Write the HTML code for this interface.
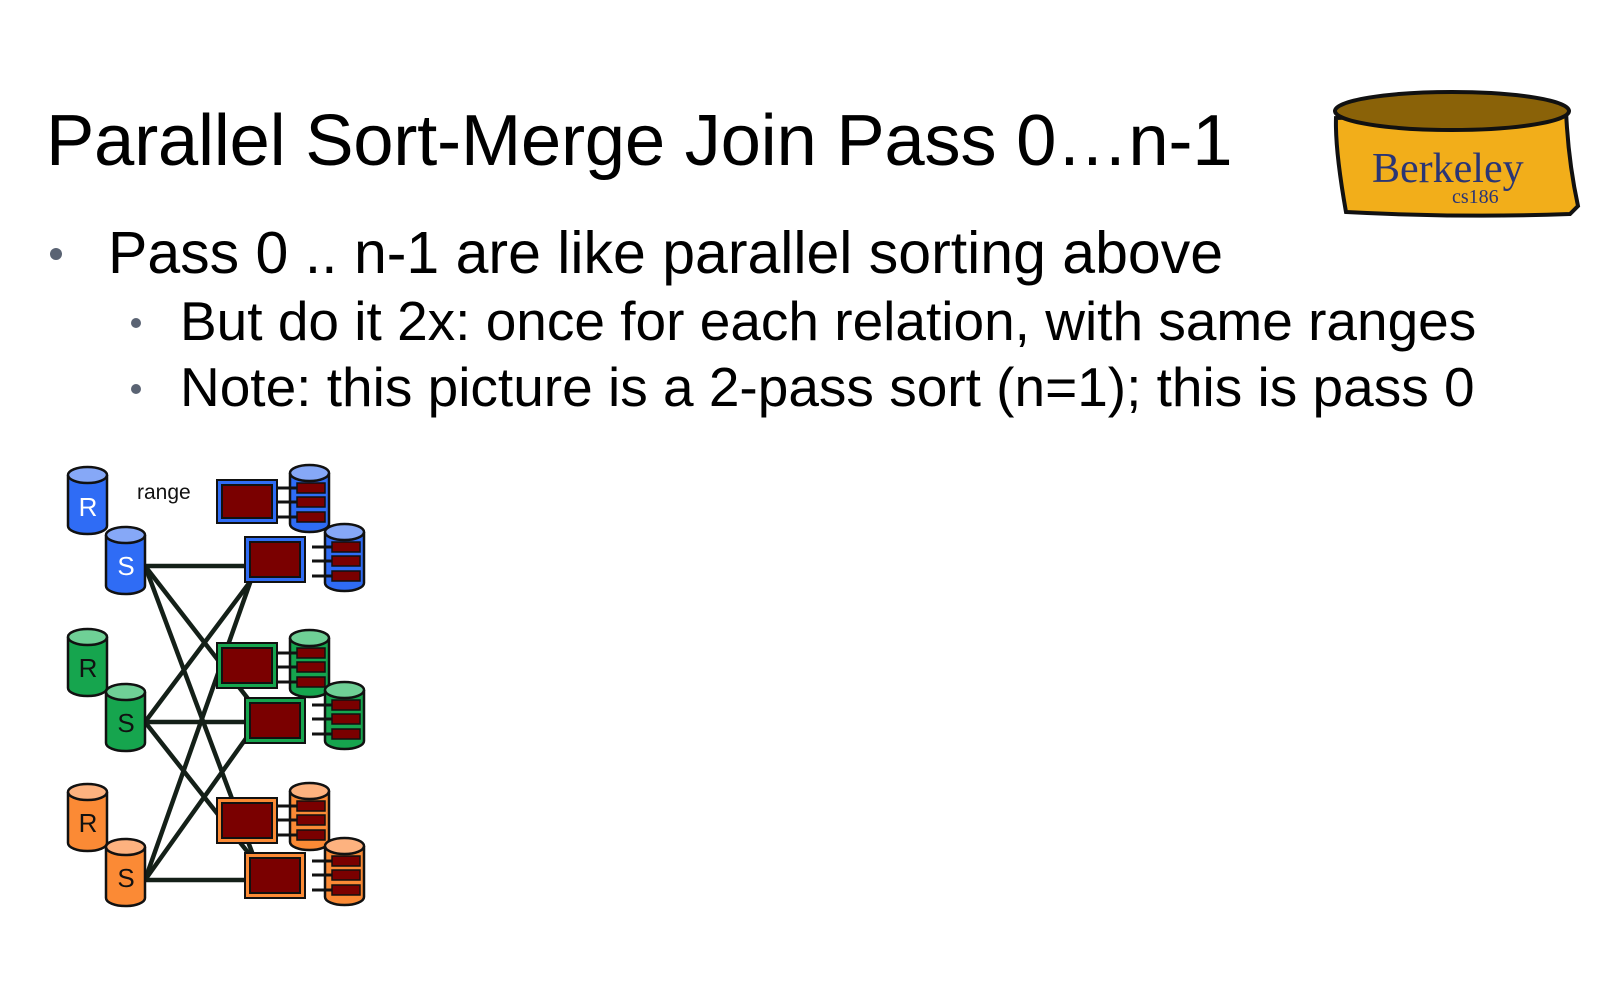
<!DOCTYPE html>
<html><head><meta charset="utf-8"><style>
body{margin:0;width:1615px;height:1008px;background:#fff;overflow:hidden;position:relative;font-family:"Liberation Sans",Arial,sans-serif;color:#000}
.t{position:absolute;white-space:nowrap}
.dot{position:absolute;border-radius:50%;background:#5a6373}
</style></head><body>
<div class="t" style="left:46px;top:99px;font-size:72.5px;letter-spacing:-0.3px">Parallel Sort-Merge Join Pass 0…n-1</div>
<div class="dot" style="left:50px;top:248px;width:12px;height:12px"></div>
<div class="t" style="left:108px;top:219px;font-size:59px">Pass 0 .. n-1 are like parallel sorting above</div>
<div class="dot" style="left:131px;top:318px;width:10px;height:10px"></div>
<div class="t" style="left:180px;top:289px;font-size:55px">But do it 2x: once for each relation, with same ranges</div>
<div class="dot" style="left:131px;top:384px;width:10px;height:10px"></div>
<div class="t" style="left:180px;top:355px;font-size:55px">Note: this picture is a 2-pass sort (n=1); this is pass 0</div>

<svg width="1615" height="1008" style="position:absolute;left:0;top:0" xmlns="http://www.w3.org/2000/svg">
<g stroke="#111" stroke-width="4">
<path d="M1336 118 Q1335 150 1346 212 Q1460 218 1570 214 L1578 206 Q1568 160 1566 110 Z" fill="#f2ae1a"/>
<ellipse cx="1452" cy="111" rx="117" ry="19" fill="#8a6208"/>
</g>
<text x="1372" y="182" font-family="Liberation Serif,serif" font-size="42" fill="#2a3575">Berkeley</text>
<text x="1452" y="203" font-family="Liberation Serif,serif" font-size="20" fill="#2a3575">cs186</text>

<g stroke="#142018" stroke-width="4.5" fill="none">
<line x1="145" y1="566" x2="247" y2="566"/>
<line x1="145" y1="722" x2="247" y2="722"/>
<line x1="145" y1="880" x2="247" y2="880"/>
<line x1="145" y1="566" x2="249" y2="700"/>
<line x1="145" y1="566" x2="253" y2="855"/>
<line x1="145" y1="722" x2="253" y2="578"/>
<line x1="145" y1="722" x2="250" y2="855"/>
<line x1="145" y1="880" x2="251" y2="580"/>
<line x1="145" y1="880" x2="247" y2="737"/>
</g>

<defs>
<g id="cylB"><path d="M0 9 V60 A19.5 8 0 0 0 39 60 V9" fill="#2f6cf5" stroke="#111" stroke-width="2.5"/><ellipse cx="19.5" cy="9" rx="19.5" ry="8" fill="#86a8f7" stroke="#111" stroke-width="2.5"/></g>
<g id="cylG"><path d="M0 9 V60 A19.5 8 0 0 0 39 60 V9" fill="#16a54e" stroke="#111" stroke-width="2.5"/><ellipse cx="19.5" cy="9" rx="19.5" ry="8" fill="#6fd096" stroke="#111" stroke-width="2.5"/></g>
<g id="cylO"><path d="M0 9 V60 A19.5 8 0 0 0 39 60 V9" fill="#fb8a35" stroke="#111" stroke-width="2.5"/><ellipse cx="19.5" cy="9" rx="19.5" ry="8" fill="#fdb27f" stroke="#111" stroke-width="2.5"/></g>
<g id="bars"><g stroke="#111" stroke-width="3"><line x1="-15" y1="24" x2="5" y2="24"/><line x1="-15" y1="38" x2="5" y2="38"/><line x1="-15" y1="53" x2="5" y2="53"/></g>
<g fill="#7a0000" stroke="#111" stroke-width="1.5"><rect x="5" y="19" width="28" height="10"/><rect x="5" y="33" width="28" height="10"/><rect x="5" y="48" width="28" height="10"/></g></g>
</defs>

<use href="#cylB" x="68" y="466"/><use href="#cylB" x="106" y="526"/>
<use href="#cylG" x="68" y="628"/><use href="#cylG" x="106" y="683"/>
<use href="#cylO" x="68" y="783"/><use href="#cylO" x="106" y="838"/>
<g font-size="26" text-anchor="middle">
<text x="88" y="516" fill="#fff">R</text><text x="126" y="575" fill="#fff">S</text>
<text x="88" y="677" fill="#111">R</text><text x="126" y="732" fill="#111">S</text>
<text x="88" y="832" fill="#111">R</text><text x="126" y="887" fill="#111">S</text>
</g>
<text x="137" y="499" font-size="21" fill="#111">range</text>

<g stroke="#111" stroke-width="2">
<rect x="217" y="480" width="60" height="43" fill="#2f6cf5"/><rect x="222" y="485" width="50" height="33" fill="#7a0000"/>
<rect x="245" y="537" width="60" height="45" fill="#2f6cf5"/><rect x="250" y="542" width="50" height="35" fill="#7a0000"/>
<rect x="217" y="643" width="60" height="45" fill="#16a54e"/><rect x="222" y="648" width="50" height="35" fill="#7a0000"/>
<rect x="245" y="698" width="60" height="45" fill="#16a54e"/><rect x="250" y="703" width="50" height="35" fill="#7a0000"/>
<rect x="217" y="798" width="60" height="45" fill="#fb8a35"/><rect x="222" y="803" width="50" height="35" fill="#7a0000"/>
<rect x="245" y="853" width="60" height="45" fill="#fb8a35"/><rect x="250" y="858" width="50" height="35" fill="#7a0000"/>
</g>
<use href="#cylB" x="290" y="464"/><use href="#bars" x="292" y="464"/>
<use href="#cylB" x="325" y="523"/><use href="#bars" x="327" y="523"/>
<use href="#cylG" x="290" y="629"/><use href="#bars" x="292" y="629"/>
<use href="#cylG" x="325" y="681"/><use href="#bars" x="327" y="681"/>
<use href="#cylO" x="290" y="782"/><use href="#bars" x="292" y="782"/>
<use href="#cylO" x="325" y="837"/><use href="#bars" x="327" y="837"/>
</svg>
</body></html>
